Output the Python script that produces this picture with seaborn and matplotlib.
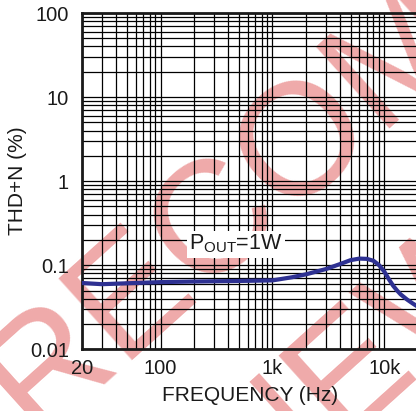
import matplotlib
matplotlib.use("Agg")
import matplotlib.pyplot as plt
import matplotlib.ticker as mticker
import seaborn as sns
import pandas as pd

# THD+N vs frequency, Pout = 1W
freq_hz = [20, 30, 50, 100, 200, 500, 1000, 1500, 2000, 3000, 4000, 5000, 6000,
           7000, 8000, 9000, 10000, 11000, 12000, 13000, 14000, 16000, 18000, 20000]
thd_pct = [0.0615, 0.0595, 0.061, 0.063, 0.064, 0.065, 0.066, 0.072, 0.078, 0.090,
           0.103, 0.115, 0.120, 0.119, 0.113, 0.100, 0.084, 0.068, 0.057, 0.050,
           0.045, 0.039, 0.035, 0.032]

x_ticks = [20, 100, 1000, 10000]
x_ticklabels = ["20", "100", "1k", "10k"]
y_ticks = [0.01, 0.1, 1, 10, 100]
y_ticklabels = ["0.01", "0.1", "1", "10", "100"]

df = pd.DataFrame({"freq": freq_hz, "thd": thd_pct})

sns.set_theme(style="white")
plt.rcParams["font.family"] = ["Liberation Sans", "DejaVu Sans"]
plt.rcParams["mathtext.fontset"] = "custom"
plt.rcParams["mathtext.rm"] = "Liberation Sans"

fig = plt.figure(figsize=(4.16, 4.11), dpi=100)
fig.patch.set_facecolor("white")
ax = fig.add_axes([0.1978, 0.1501, 0.807, 0.8182])
ax.patch.set_alpha(0)

# watermark behind everything
wm_color = "#efaaaa"
fig.text(0.082, -0.061, "RECOMMENDED", fontsize=115, color=wm_color,
         rotation=42, rotation_mode="anchor", ha="left", va="baseline", zorder=-5)
fig.text(-0.063, -0.893, "FOR NEW DESIGNS", fontsize=115, color=wm_color,
         rotation=42, rotation_mode="anchor", ha="left", va="baseline", zorder=-5)

sns.lineplot(data=df, x="freq", y="thd", ax=ax, color="#2e3192", linewidth=3.0,
             sort=False, zorder=5)

ax.set_xscale("log")
ax.set_yscale("log")
ax.set_xlim(20, 20000)
ax.set_ylim(0.01, 100)

ax.xaxis.set_major_locator(mticker.FixedLocator(x_ticks))
ax.set_xticklabels(x_ticklabels)
ax.yaxis.set_major_locator(mticker.FixedLocator(y_ticks))
ax.set_yticklabels(y_ticklabels)
ax.xaxis.set_minor_locator(mticker.LogLocator(base=10, subs=range(2, 10)))
ax.yaxis.set_minor_locator(mticker.LogLocator(base=10, subs=range(2, 10)))
ax.xaxis.set_minor_formatter(mticker.NullFormatter())
ax.yaxis.set_minor_formatter(mticker.NullFormatter())

ax.grid(True, which="both", color="black", linewidth=0.9)
ax.tick_params(which="both", length=0)
ax.tick_params(axis="x", labelsize=14.5, pad=7, colors="#1a1a1a")
ax.tick_params(axis="y", labelsize=14.5, pad=9.5, colors="#1a1a1a")

for s in ax.spines.values():
    s.set_color("#1a1a1a")
    s.set_linewidth(2)

ax.set_xlabel("FREQUENCY (Hz)", fontsize=15, labelpad=6, color="#1a1a1a")
ax.set_ylabel("THD+N (%)", fontsize=15, labelpad=2, color="#1a1a1a")

ax.text(475, 0.178, r"P$_\mathregular{OUT}$=1W", fontsize=15.5, ha="center", va="center",
        color="#1a1a1a", zorder=6,
        bbox=dict(facecolor="white", edgecolor="none", pad=1.5))

fig.savefig("out.png", dpi=100)
